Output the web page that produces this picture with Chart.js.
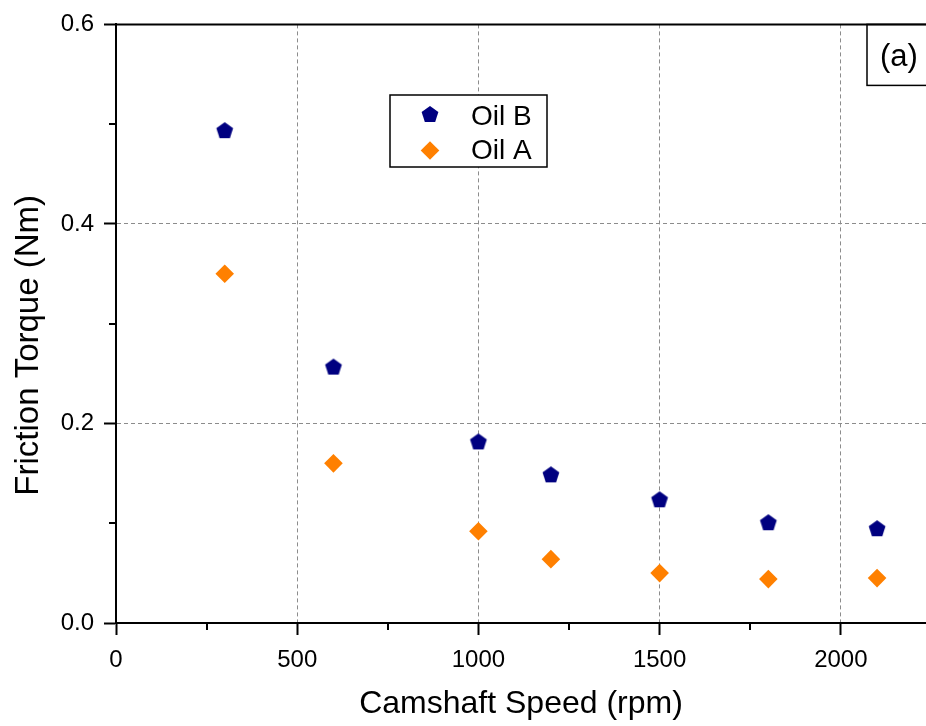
<!DOCTYPE html>
<html>
<head>
<meta charset="utf-8">
<script src="https://cdn.jsdelivr.net/npm/chart.js@4/dist/chart.umd.min.js"></script>
<style>
  html, body { margin:0; padding:0; background:#fff; }
  #wrap { width:926px; height:726px; }
</style>
</head>
<body>
<div id="wrap"><canvas id="chart-friction" width="926" height="726"></canvas></div>
<script>
// data
const speeds = [300, 600, 1000, 1200, 1500, 1800, 2100];
const oilB = [0.494, 0.257, 0.182, 0.149, 0.124, 0.101, 0.095];
const oilA = [0.350, 0.160, 0.092, 0.064, 0.050, 0.044, 0.045];
const xTicks = [0, 500, 1000, 1500, 2000];
const xMinor = [250, 750, 1250, 1750];
const yTicks = [0, 0.2, 0.4, 0.6];
const yMinor = [0.1, 0.3, 0.5];

const FONT = "'Liberation Sans', Arial, Helvetica, sans-serif";
const navy = '#000080', orange = '#FF8000', gridGray = '#8c8c8c';

// pentagon marker (no built-in style for it)
function makePentagon(R, color) {
    const c = document.createElement('canvas');
    c.width = 20; c.height = 20;
    const g = c.getContext('2d');
    const cx = 10, cy = 10 + 0.095 * R;
    g.fillStyle = color;
    g.beginPath();
    for (let i = 0; i < 5; i++) {
        const a = -Math.PI / 2 + i * 2 * Math.PI / 5;
        const px = cx + R * Math.cos(a), py = cy + R * Math.sin(a);
        if (i === 0) g.moveTo(px, py); else g.lineTo(px, py);
    }
    g.closePath();
    g.fill();
    return c;
}
const pentagon = makePentagon(8.8, navy);

function diamond(ctx, x, y, r, color) {
    ctx.fillStyle = color;
    ctx.beginPath();
    ctx.moveTo(x - r, y); ctx.lineTo(x, y - r); ctx.lineTo(x + r, y); ctx.lineTo(x, y + r);
    ctx.closePath();
    ctx.fill();
}

// top frame line, minor ticks, legend box and panel label
const extras = {
    id: 'extras',
    afterDraw(chart) {
        const {ctx, chartArea: a, scales: {x, y}} = chart;
        ctx.save();
        ctx.strokeStyle = '#000';
        ctx.lineWidth = 2;
        ctx.beginPath();
        ctx.moveTo(a.left - 1, a.top); ctx.lineTo(a.right, a.top);
        xMinor.forEach(v => { const px = Math.round(x.getPixelForValue(v)); ctx.moveTo(px, a.bottom); ctx.lineTo(px, a.bottom + 7); });
        yMinor.forEach(v => { const py = Math.round(y.getPixelForValue(v)); ctx.moveTo(a.left - 7, py); ctx.lineTo(a.left, py); });
        ctx.stroke();

        // legend
        ctx.fillStyle = '#fff';
        ctx.fillRect(390, 95, 157, 72);
        ctx.lineWidth = 1.5;
        ctx.strokeRect(390, 95, 157, 72);
        ctx.drawImage(pentagon, 430 - 10, 114 - 10);
        diamond(ctx, 430, 150.5, 9.3, orange);
        ctx.fillStyle = '#000';
        ctx.font = '28px ' + FONT;
        ctx.textBaseline = 'alphabetic';
        ctx.textAlign = 'left';
        ctx.fillText(chart.data.datasets[0].label, 471, 125);
        ctx.fillText(chart.data.datasets[1].label, 471, 159);

        // (a) box
        ctx.strokeRect(867, a.top, 80, 61);
        ctx.font = '31px ' + FONT;
        ctx.fillText('(a)', 880, 66);
        ctx.restore();
    }
};

new Chart(document.getElementById('chart-friction'), {
    type: 'scatter',
    data: {
        datasets: [
            {label: 'Oil B', data: speeds.map((s, i) => ({x: s, y: oilB[i]})),
             pointStyle: pentagon, backgroundColor: navy, borderColor: navy},
            {label: 'Oil A', data: speeds.map((s, i) => ({x: s, y: oilA[i]})),
             pointStyle: 'rectRot', pointRadius: 9.3, pointBorderWidth: 0, backgroundColor: orange, borderColor: orange}
        ]
    },
    options: {
        responsive: false,
        animation: false,
        layout: {autoPadding: false, padding: {top: 23, left: 0, right: 0, bottom: 0}},
        plugins: {legend: {display: false}, tooltip: {enabled: false}},
        scales: {
            x: {
                type: 'linear', min: 0, max: 2235,
                afterBuildTicks: s => { s.ticks = xTicks.map(v => ({value: v})); },
                afterFit: s => { s.height = 103; s.paddingRight = 0; s.paddingLeft = 0; },
                border: {color: '#000', width: 2, dash: [4, 3]},
                grid: {color: c => (c.tick && c.tick.value === 0) ? 'rgba(0,0,0,0)' : gridGray,
                       lineWidth: 1, tickColor: '#000', tickWidth: 2, tickLength: 12, tickBorderDash: []},
                ticks: {color: '#000', font: {family: FONT, size: 24}, padding: 11, maxRotation: 0,
                        callback: v => String(v)},
                title: {display: true, text: 'Camshaft Speed (rpm)', color: '#000',
                        font: {family: FONT, size: 32}, padding: {top: 0, bottom: 3}}
            },
            y: {
                type: 'linear', min: 0, max: 0.6,
                afterBuildTicks: s => { s.ticks = yTicks.map(v => ({value: v})); },
                afterFit: s => { s.width = 116; },
                border: {color: '#000', width: 2, dash: [4, 3]},
                grid: {color: c => (c.tick && (c.tick.value === 0 || c.tick.value === 0.6)) ? 'rgba(0,0,0,0)' : gridGray,
                       lineWidth: 1, tickColor: '#000', tickWidth: 2, tickLength: 12, tickBorderDash: []},
                ticks: {color: '#000', font: {family: FONT, size: 24}, padding: 10,
                        callback: v => v.toFixed(1)},
                title: {display: true, text: 'Friction Torque (Nm)    \u2009', color: '#000',
                        font: {family: FONT, size: 33}, padding: {top: 9, bottom: 0}}
            }
        }
    },
    plugins: [extras]
});
</script>
</body>
</html>
